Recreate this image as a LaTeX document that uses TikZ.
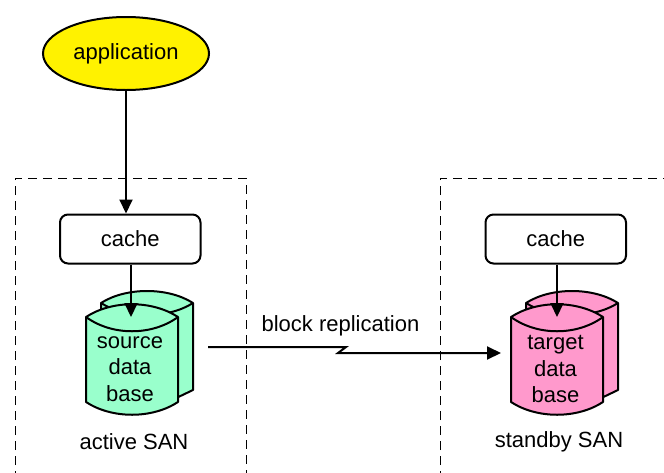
\documentclass[tikz,border=0pt]{standalone}
\usepackage{fontspec}
\setmainfont{Liberation Sans}
\usetikzlibrary{arrows.meta,shapes.geometric}
\definecolor{dbgreen}{HTML}{99FFCC}
\definecolor{dbpink}{HTML}{FF99CC}
\tikzset{
  conn/.style={line width=2pt,-{Triangle[length=14pt,width=13pt]}},
  cachebox/.style={draw,line width=2pt,rounded corners=8pt,fill=white,minimum width=140.5pt,minimum height=49pt,inner sep=0pt,font=\fontsize{22}{22}\selectfont},
  sanbox/.style={draw,line width=1pt,dash pattern=on 9pt off 6pt},
  cyl/.style={draw,line width=2pt,line join=round},
  lbl/.style={inner sep=0pt,align=center,font=\fontsize{22}{26.5}\selectfont}
}
% #1 = x offset, #2 = fill
\newcommand{\dbcyl}[2]{%
  \begin{scope}[xshift=#1pt,yshift=0pt]
    \path[cyl,fill=#2] (101,303) .. controls (126,287) and (168,287) .. (193,303)
      -- (193,390) -- (170,401) -- (101,401) -- cycle;
    \path[cyl] (101,303) .. controls (126,319) and (168,319) .. (193,303);
    \path[cyl,fill=#2] (86,317) .. controls (112,300) and (152,300) .. (178,317)
      -- (178,402) .. controls (152,419) and (112,419) .. (86,402) -- cycle;
    \path[cyl] (86,317) .. controls (112,336) and (152,336) .. (178,317);
  \end{scope}}
\begin{document}
\begin{tikzpicture}[x=1pt,y=-1pt]
  \useasboundingbox (0,0) rectangle (664,472);
  \clip (0,0) rectangle (664,472);
  \path[sanbox,draw] (15,480) -- (15,178) -- (246,178) -- (246,480);
  \path[sanbox,draw] (440,480) -- (440,178) -- (670,178);
  \node[draw,ellipse,line width=2pt,fill=yellow,minimum width=166pt,minimum height=73pt,inner sep=0pt,font=\fontsize{22}{22}\selectfont] (appl) at (126,53.5) {application};
  \node[cachebox] (cacheL) at (130.25,239) {cache};
  \node[cachebox] (cacheR) at (555.75,239) {cache};
  \dbcyl{0}{dbgreen}
  \dbcyl{425}{dbpink}
  \coordinate (dbL) at (131,317);
  \coordinate (dbR) at (557,317);
  \coordinate (repS) at (208,347);
  \coordinate (repT) at (501,353);
  \coordinate (kinkA) at (346,347);
  \coordinate (kinkB) at (338,353);
  \node[lbl] (srcT) at (130,369) {source\\data\\base};
  \node[lbl] (tgtT) at (555.5,369) {target\\data\\base};
  \node[lbl] (actT) at (134,441.5) {active SAN};
  \node[lbl] (stbT) at (559,441.5) {standby SAN};
  \node[lbl] (repL) at (340.5,325.5) {block replication};
  \draw[conn] (appl.south) -- (appl.south |- cacheL.north);
  \draw[conn] (dbL |- cacheL.south) -- (dbL);
  \draw[conn] (dbR |- cacheR.south) -- (dbR);
  \draw[conn] (repS) -- (kinkA) -- (kinkB) -- (repT);
\end{tikzpicture}
\end{document}
